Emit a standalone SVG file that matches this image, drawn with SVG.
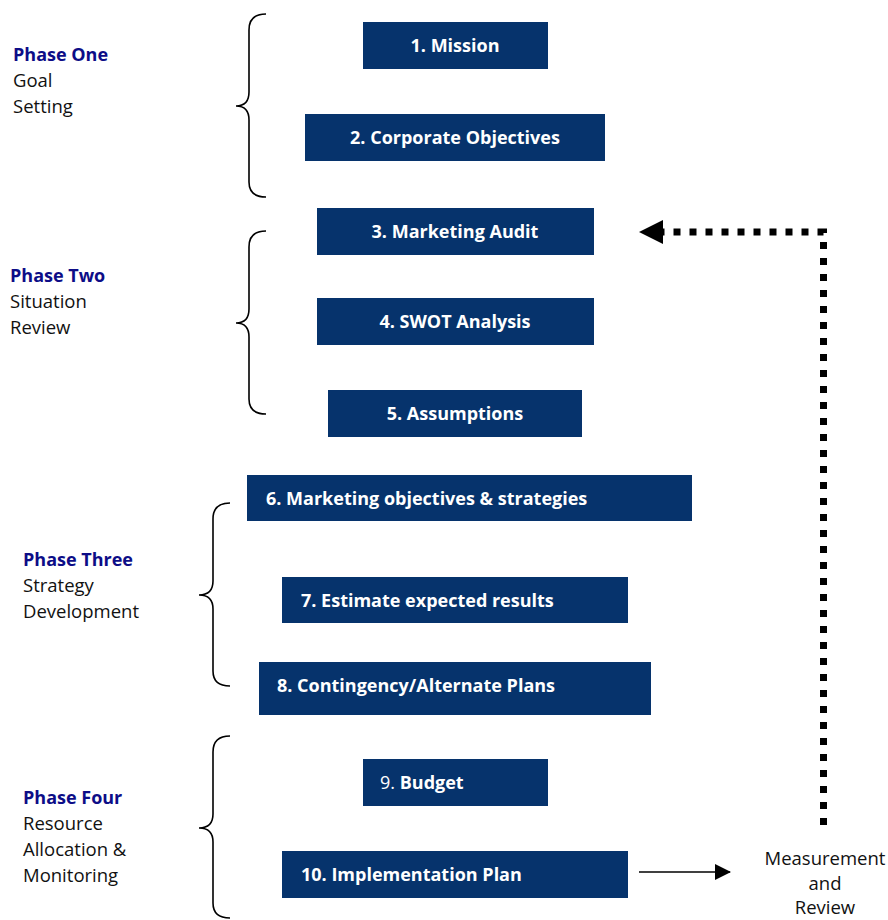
<svg xmlns="http://www.w3.org/2000/svg" width="888" height="920" viewBox="0 0 888 920">
<style>
.box{fill:#06336c}
.bt{font-family:"Open Sans","Liberation Sans",sans-serif;font-size:18px;font-weight:bold;fill:#fff}
.ph{font-family:"Open Sans","Liberation Sans",sans-serif;font-size:18px;font-weight:bold;fill:#0d0d87}
.lb{font-family:"Open Sans","Liberation Sans",sans-serif;font-size:18.5px;fill:#111}
.brace{fill:none;stroke:#000;stroke-width:1.6}
</style>
<defs>
<marker id="solid" markerWidth="16" markerHeight="16" refX="15" refY="8" orient="auto" markerUnits="userSpaceOnUse"><path d="M0,0 L16,8 L0,16 z" fill="#000"/></marker>
</defs>
<rect width="888" height="920" fill="#fff"/>
<g id="phase1">
<path class="brace" d="M266,14 Q249,14 249,30 L249,92 Q249,106 236,106 Q249,106 249,120 L249,182 Q249,197 266,197"/>
<text class="ph" x="13" y="61">Phase One</text>
<text class="lb" x="13" y="87">Goal</text>
<text class="lb" x="13" y="113">Setting</text>
</g>
<g id="phase2">
<path class="brace" d="M266,231 Q249,231 249,247 L249,309 Q249,323 236,323 Q249,323 249,337 L249,399 Q249,414 266,414"/>
<text class="ph" x="10" y="282">Phase Two</text>
<text class="lb" x="10" y="308">Situation</text>
<text class="lb" x="10" y="334">Review</text>
</g>
<g id="phase3">
<path class="brace" d="M230,503 Q213,503 213,519 L213,581 Q213,595 199,595 Q213,595 213,609 L213,671 Q213,686 230,686"/>
<text class="ph" x="23" y="566">Phase Three</text>
<text class="lb" x="23" y="592">Strategy</text>
<text class="lb" x="23" y="618">Development</text>
</g>
<g id="phase4">
<path class="brace" d="M230,736 Q213,736 213,752 L213,814 Q213,828 199,828 Q213,828 213,842 L213,903 Q213,918 230,918"/>
<text class="ph" x="23" y="804">Phase Four</text>
<text class="lb" x="23" y="830">Resource</text>
<text class="lb" x="23" y="856">Allocation &amp;</text>
<text class="lb" x="23" y="882">Monitoring</text>
</g>
<g id="n1"><rect class="box" x="363" y="22" width="185" height="47"/><text class="bt" x="455" y="52" text-anchor="middle">1. Mission</text></g>
<g id="n2"><rect class="box" x="305" y="114" width="300" height="47"/><text class="bt" x="455" y="144" text-anchor="middle">2. Corporate Objectives</text></g>
<g id="n3"><rect class="box" x="317" y="208" width="277" height="47"/><text class="bt" x="455" y="238" text-anchor="middle">3. Marketing Audit</text></g>
<g id="n4"><rect class="box" x="317" y="298" width="277" height="47"/><text class="bt" x="455" y="328" text-anchor="middle">4. SWOT Analysis</text></g>
<g id="n5"><rect class="box" x="328" y="390" width="254" height="47"/><text class="bt" x="455" y="420" text-anchor="middle">5. Assumptions</text></g>
<g id="n6"><rect class="box" x="247" y="475" width="445" height="46"/><text class="bt" x="266" y="505">6. Marketing objectives &amp; strategies</text></g>
<g id="n7"><rect class="box" x="282" y="577" width="346" height="46"/><text class="bt" x="301" y="607">7. Estimate expected results</text></g>
<g id="n8"><rect class="box" x="259" y="662" width="392" height="53"/><text class="bt" x="277" y="692">8. Contingency/Alternate Plans</text></g>
<g id="n9"><rect class="box" x="363" y="759" width="185" height="47"/><text class="bt" x="380" y="789"><tspan font-weight="normal">9.</tspan> Budget</text></g>
<g id="n10"><rect class="box" x="282" y="851" width="346" height="47"/><text class="bt" x="301" y="881">10. Implementation Plan</text></g>
<g id="review"><text class="lb" text-anchor="middle"><tspan x="825" y="865">Measurement</tspan><tspan x="825" y="890">and</tspan><tspan x="825" y="914">Review</tspan></text></g>
<g id="connectors">
<path d="M823.5,825 L823.5,232 L663,232" fill="none" stroke="#000" stroke-width="7" stroke-dasharray="7 9"/>
<path d="M639,232 L663,220 L663,244 z" fill="#000"/>
<line x1="639" y1="872" x2="730" y2="872" stroke="#000" stroke-width="1.6" marker-end="url(#solid)"/>
</g>
</svg>
